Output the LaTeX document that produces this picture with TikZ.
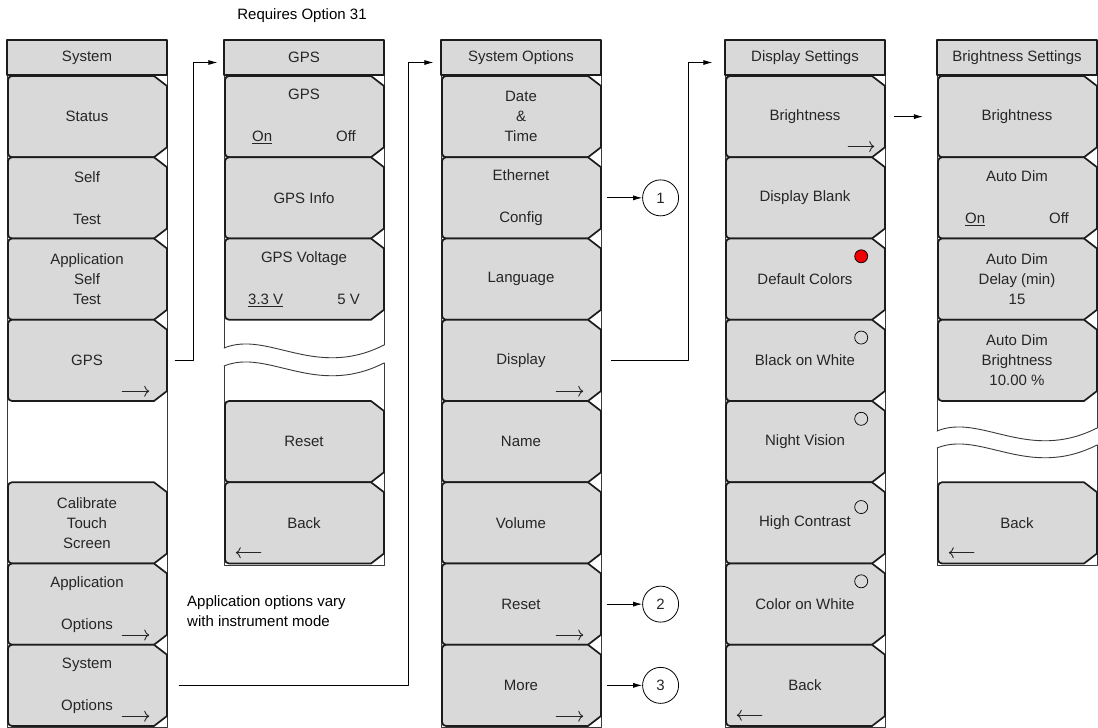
\documentclass[tikz,border=0pt]{standalone}
\usepackage{fontspec}
\setmainfont{Liberation Sans}
\usetikzlibrary{arrows.meta,calc,positioning}
\definecolor{menuGray}{HTML}{D9D9D9}
\definecolor{menuEdge}{HTML}{1C1C1C}
\definecolor{menuFrame}{HTML}{3A3A3A}
\definecolor{menuInk}{HTML}{262626}
\definecolor{menuRed}{HTML}{F00000}
% soft key: name, left x, top y, label
\newcommand{\softkey}[4]{%
  \path[key] (#2+100,#3) -- (#2+147,#3) -- (#2+160,#3+10) -- (#2+160,#3+71.25)
    -- (#2+147,#3+81.25) -- (#2+100,#3+81.25) [rounded corners=4pt] -- (#2+1,#3+81.25) -- (#2+1,#3) -- cycle;
  \node[keylabel] (#1) at (#2+80,#3+40.625) {#4};}

\begin{document}
\begin{tikzpicture}[x=1pt,y=-1pt,>=Latex,line cap=round,line join=round,font=\fontsize{15}{20}\selectfont]
\useasboundingbox[fill=white] (0,0) rectangle (1098,728);
\tikzset{frame/.style={draw=menuFrame,line width=0.9pt},head/.style={draw=menuEdge,fill=menuGray,line width=1.2pt,minimum width=160pt,minimum height=35pt,inner sep=0pt,text=menuInk},key/.style={draw=menuEdge,fill=menuGray,line width=1.7pt,line join=miter},keylabel/.style={minimum width=160pt,minimum height=81.25pt,inner sep=0pt,align=center,text=menuInk},navr/.style={draw=menuInk,line width=0.9pt,-{Computer Modern Rightarrow[length=5pt,width=11pt]}},navl/.style={draw=menuInk,line width=0.9pt,{Computer Modern Rightarrow[length=5pt,width=11pt]}-},link/.style={draw=black,line width=0.8pt,-{Latex[length=9pt,width=5pt]}},callout/.style={draw=black,circle,line width=0.8pt,minimum size=36pt,inner sep=0pt,text=menuInk},radio/.style={draw=black,circle,line width=0.7pt,minimum size=13pt,inner sep=0pt}}
% column frames
\path[frame] (7,40) rectangle (167,727);
\path[frame] (224,348) -- (224,40) -- (384,40) -- (384,345);
\path[frame] (224,348) .. controls (268,330) and (315,380) .. (384,345);
\path[frame] (224,366) .. controls (268,348) and (315,398) .. (384,363);
\path[frame] (224,366) -- (224,565) -- (384,565) -- (384,363);
\path[frame] (441,40) rectangle (601,727);
\path[frame] (725,40) rectangle (885,727);
\path[frame] (937,431) -- (937,40) -- (1097,40) -- (1097,428);
\path[frame] (937,431) .. controls (981,413) and (1028,463) .. (1097,428);
\path[frame] (937,448) .. controls (981,430) and (1028,480) .. (1097,445);
\path[frame] (937,448) -- (937,565) -- (1097,565) -- (1097,445);
% headers
\node[head] (hSystem) at (87,57.5) {System};
\node[head] (hGPS) at (304,57.5) {GPS};
\node[head] (hSysOpt) at (521,57.5) {System Options};
\node[head] (hDisplay) at (805,57.5) {Display Settings};
\node[head] (hBright) at (1017,57.5) {Brightness Settings};
% System
\softkey{kStatus}{7}{76}{Status}
\softkey{kSelfTest}{7}{157.25}{Self\\[22pt]Test}
\softkey{kAppSelf}{7}{238.5}{Application\\Self\\Test}
\softkey{kGPS}{7}{319.75}{GPS}
\softkey{kCalib}{7}{482.25}{Calibrate\\Touch\\Screen}
\softkey{kAppOpt}{7}{563.5}{Application\\[22pt]Options}
\softkey{kSysOpt}{7}{644.75}{System\\[22pt]Options}
% GPS
\softkey{kGpsOn}{224}{76}{GPS\\[22pt]\underline{On}\hspace{64pt}Off}
\softkey{kGpsInfo}{224}{157.25}{GPS Info}
\softkey{kGpsVolt}{224}{238.5}{GPS Voltage\\[22pt]\underline{3.3 V}\hspace{54pt}5 V}
\softkey{kGpsReset}{224}{401}{Reset}
\softkey{kGpsBack}{224}{482.25}{Back}
% System Options
\softkey{kDate}{441}{76}{Date\\\&\\Time}
\softkey{kEthernet}{441}{157.25}{Ethernet\\[22pt]Config}
\softkey{kLanguage}{441}{238.5}{Language}
\softkey{kDisplay}{441}{319.75}{Display}
\softkey{kName}{441}{401}{Name}
\softkey{kVolume}{441}{482.25}{Volume}
\softkey{kReset}{441}{563.5}{Reset}
\softkey{kMore}{441}{644.75}{More}
% Display Settings
\softkey{kBrightness}{725}{76}{Brightness}
\softkey{kBlank}{725}{157.25}{Display Blank}
\softkey{kDefault}{725}{238.5}{Default Colors}
\softkey{kBlackWhite}{725}{319.75}{Black on White}
\softkey{kNight}{725}{401}{Night Vision}
\softkey{kContrast}{725}{482.25}{High Contrast}
\softkey{kColorWhite}{725}{563.5}{Color on White}
\softkey{kBack}{725}{644.75}{Back}
% Brightness Settings
\softkey{kBrightLevel}{937}{76}{Brightness}
\softkey{kAutoDim}{937}{157.25}{Auto Dim\\[22pt]\underline{On}\hspace{64pt}Off}
\softkey{kDimDelay}{937}{238.5}{Auto Dim\\Delay (min)\\15}
\softkey{kDimLevel}{937}{319.75}{Auto Dim\\Brightness\\10.00 \%}
\softkey{kBrightBack}{937}{482.25}{Back}
% radio marks
\node[radio,fill=menuRed] (rDefault) at ([xshift=-24pt,yshift=-18pt]kDefault.north east) {};
\node[radio] (rBlackWhite) at ([xshift=-24pt,yshift=-18pt]kBlackWhite.north east) {};
\node[radio] (rNight) at ([xshift=-24pt,yshift=-18pt]kNight.north east) {};
\node[radio] (rContrast) at ([xshift=-24pt,yshift=-25pt]kContrast.north east) {};
\node[radio] (rColorWhite) at ([xshift=-24pt,yshift=-18pt]kColorWhite.north east) {};
% submenu arrows
\draw[navr] ([xshift=-45pt,yshift=10pt]kGPS.south east) -- ++(27,0);
\draw[navr] ([xshift=-45pt,yshift=10pt]kAppOpt.south east) -- ++(27,0);
\draw[navr] ([xshift=-45pt,yshift=10pt]kSysOpt.south east) -- ++(27,0);
\draw[navr] ([xshift=-45pt,yshift=10pt]kDisplay.south east) -- ++(27,0);
\draw[navr] ([xshift=-45pt,yshift=10pt]kReset.south east) -- ++(27,0);
\draw[navr] ([xshift=-45pt,yshift=10pt]kMore.south east) -- ++(27,0);
\draw[navr] ([xshift=-37pt,yshift=11pt]kBrightness.south east) -- ++(26,0);
\draw[navl] ([xshift=12pt,yshift=11pt]kGpsBack.south west) -- ++(25,0);
\draw[navl] ([xshift=12pt,yshift=11pt]kBack.south west) -- ++(25,0);
\draw[navl] ([xshift=12pt,yshift=11pt]kBrightBack.south west) -- ++(25,0);
% links between menus
\draw[link] ([xshift=8pt]kGPS.east) -- ++(18,0) |- ([xshift=-6pt,yshift=-5pt]hGPS.west);
\draw[link] ([xshift=12pt]kSysOpt.east) -- ++(229,0) |- ([xshift=-7pt,yshift=-5pt]hSysOpt.west);
\draw[link] ([xshift=10pt]kDisplay.east) -- ++(77,0) |- ([xshift=-12pt,yshift=-5pt]hDisplay.west);
\draw[link] ([xshift=9pt]kBrightness.east) -- ([xshift=-14pt]kBrightLevel.west);
\node[callout,right=41pt of kEthernet] (n1) {1};
\node[callout,right=41pt of kReset] (n2) {2};
\node[callout,right=41pt of kMore] (n3) {3};
\draw[link] ([xshift=6pt]kEthernet.east) -- (n1);
\draw[link] ([xshift=6pt]kReset.east) -- (n2);
\draw[link] ([xshift=6pt]kMore.east) -- (n3);
% notes
\node (nOption) at (302,16) {Requires Option 31};
\node[anchor=west,align=left,inner sep=0pt] (nAppNote) at (187,611.5) {Application options vary\\with instrument mode};
\end{tikzpicture}
\end{document}
